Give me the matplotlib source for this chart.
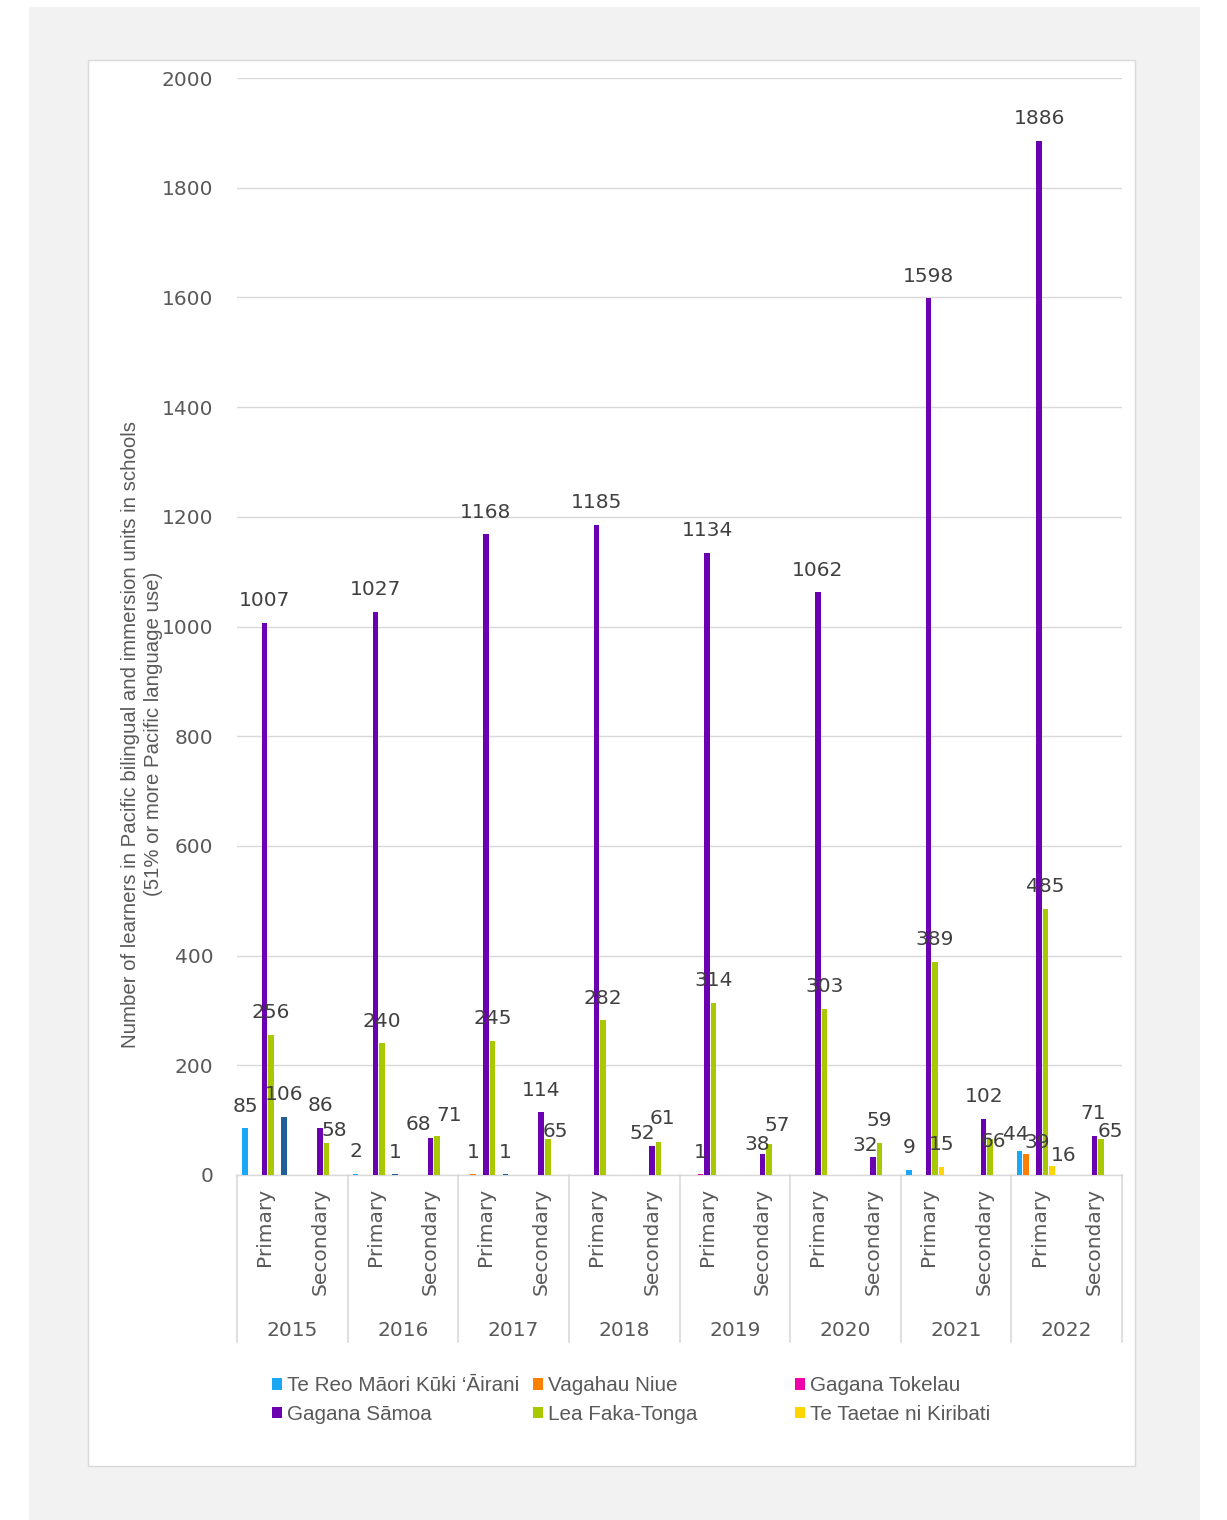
import matplotlib
matplotlib.use('Agg')
import matplotlib.pyplot as plt
from matplotlib.patches import Rectangle, Patch
from matplotlib.transforms import blended_transform_factory
import numpy as np

# ---------------- data ----------------
years = ['2015', '2016', '2017', '2018', '2019', '2020', '2021', '2022']
levels = ['Primary', 'Secondary']

cook_islands = [85, 0, 2, 0, 0, 0, 0, 0, 0, 0, 0, 0, 9, 0, 44, 0]
niue = [0, 0, 0, 0, 1, 0, 0, 0, 0, 0, 0, 0, 0, 0, 39, 0]
tokelau = [0, 0, 0, 0, 0, 0, 0, 0, 1, 0, 0, 0, 0, 0, 0, 0]
samoa = [1007, 86, 1027, 68, 1168, 114, 1185, 52, 1134, 38, 1062, 32, 1598, 102, 1886, 71]
tonga = [256, 58, 240, 71, 245, 65, 282, 61, 314, 57, 303, 59, 389, 66, 485, 65]
kiribati = [0, 0, 0, 0, 0, 0, 0, 0, 0, 0, 0, 0, 15, 0, 16, 0]
other = [106, 0, 1, 0, 1, 0, 0, 0, 0, 0, 0, 0, 0, 0, 0, 0]

series_names = ['Te Reo Māori Kūki ‘Āirani', 'Vagahau Niue', 'Gagana Tokelau',
                'Gagana Sāmoa', 'Lea Faka-Tonga', 'Te Taetae ni Kiribati', '_other']
series_values = [cook_islands, niue, tokelau, samoa, tonga, kiribati, other]
series_colors = ['#1aa7f5', '#ff7f00', '#f000a8', '#6a00b0', '#aac800', '#ffd500', '#1f5f95']

# manual nudges of some data labels (pixels: dx right, dy up), as in the original
label_nudge = {
    (4, 1): (8, -9),
    (3, 3): (-12, -9), (4, 3): (12, -2),
    (4, 5): (8, -14),
    (3, 7): (-10, -9), (4, 7): (4, 1),
    (3, 9): (-5, -13), (4, 9): (8, -4),
    (3, 11): (-8, -10),
    (4, 13): (3, -25),
    (0, 14): (-4, -6), (1, 14): (11, -11), (5, 14): (12, -11),
    (3, 15): (-1, 0), (4, 15): (10, -14),
}

# ---------------- figure ----------------
W, H = 1227, 1520
PX = 72 / 100.0  # points per pixel
fig = plt.figure(figsize=(W / 100, H / 100), dpi=100)
fig.patches.append(Rectangle((29 / W, 0), (1200 - 29) / W, (H - 7) / H,
                             transform=fig.transFigure, facecolor='#f2f2f2',
                             edgecolor='none', zorder=-10))
fig.patches.append(Rectangle((88 / W, 1 - 1466 / H), (1135 - 88) / W, (1466 - 60) / H,
                             transform=fig.transFigure, facecolor='white',
                             edgecolor='#d9d9d9', lw=1, zorder=-9))

ax = fig.add_axes([237 / W, 1 - 1175 / H, 885 / W, 1097 / H])
ax.set_facecolor('none')

n_cat = len(years) * len(levels)
x = np.arange(n_cat)
slot = 0.118
bw = 0.1
for k, (name, vals, col) in enumerate(zip(series_names, series_values, series_colors)):
    xs = x + (k - 3) * slot
    ax.bar(xs, vals, width=bw, color=col, label=name, zorder=3)
    for c, (xi, v) in enumerate(zip(xs, vals)):
        if v > 0:
            dx, dy = label_nudge.get((k, c), (0, 0))
            ax.annotate(str(v), (xi, v), xytext=(dx * PX, 12 + dy * PX),
                        textcoords='offset points',
                        ha='center', va='baseline', fontsize=14.5, color='#404040',
                        zorder=5, annotation_clip=False)

ax.set_xlim(-0.5, n_cat - 0.5)
ax.set_ylim(0, 2000)
ax.set_yticks(np.arange(0, 2001, 200))
ax.tick_params(axis='y', length=0, pad=17, labelsize=14.5, labelcolor='#595959')
ax.set_xticks([])
ax.grid(axis='y', color='#d9d9d9', lw=1, zorder=0)
for s in ['left', 'right', 'top']:
    ax.spines[s].set_visible(False)
ax.spines['bottom'].set_color('#d9d9d9')
ax.spines['bottom'].set_linewidth(1)

# multi-level category axis
tr = blended_transform_factory(ax.transData, ax.transAxes)
ph = 1097.0
for i in range(n_cat):
    ax.text(x[i], -13 / ph, levels[i % 2], transform=tr, rotation=90, ha='center',
            va='top', fontsize=14.5, color='#595959')
for j, yr in enumerate(years):
    ax.text(2 * j + 0.5, -155 / ph, yr, transform=tr, ha='center', va='center',
            fontsize=14.5, color='#595959')
for b in np.arange(-0.5, n_cat, 2):
    ax.plot([b, b], [0, -167 / ph], transform=tr, color='#d9d9d9', lw=1.2, clip_on=False)

# y label
fig.text(142 / W, 1 - 734 / H,
         'Number of learners in Pacific bilingual and immersion units in schools\n(51% or more Pacific language use)',
         rotation=90, ha='center', va='center', ma='center', fontsize=14.7,
         family='Liberation Sans', color='#595959', linespacing=1.27)

# legend (3 equal-width columns, row-major order)
cols = [[0, 3], [1, 4], [2, 5]]
col_x = [272, 533, 795]
for cx, idx in zip(col_x, cols):
    handles = [Patch(facecolor=series_colors[i], edgecolor='none') for i in idx]
    labels = [series_names[i] for i in idx]
    leg = fig.legend(handles, labels, loc='upper left',
                     bbox_to_anchor=(cx / W, 1 - 1376 / H), frameon=False,
                     borderpad=0, borderaxespad=0, handlelength=0.5, handleheight=0.5,
                     handletextpad=0.25, labelspacing=0.48,
                     prop={'family': 'Liberation Sans', 'size': 14.85})
    for t in leg.get_texts():
        t.set_color('#595959')

fig.savefig('out.png', dpi=100)
